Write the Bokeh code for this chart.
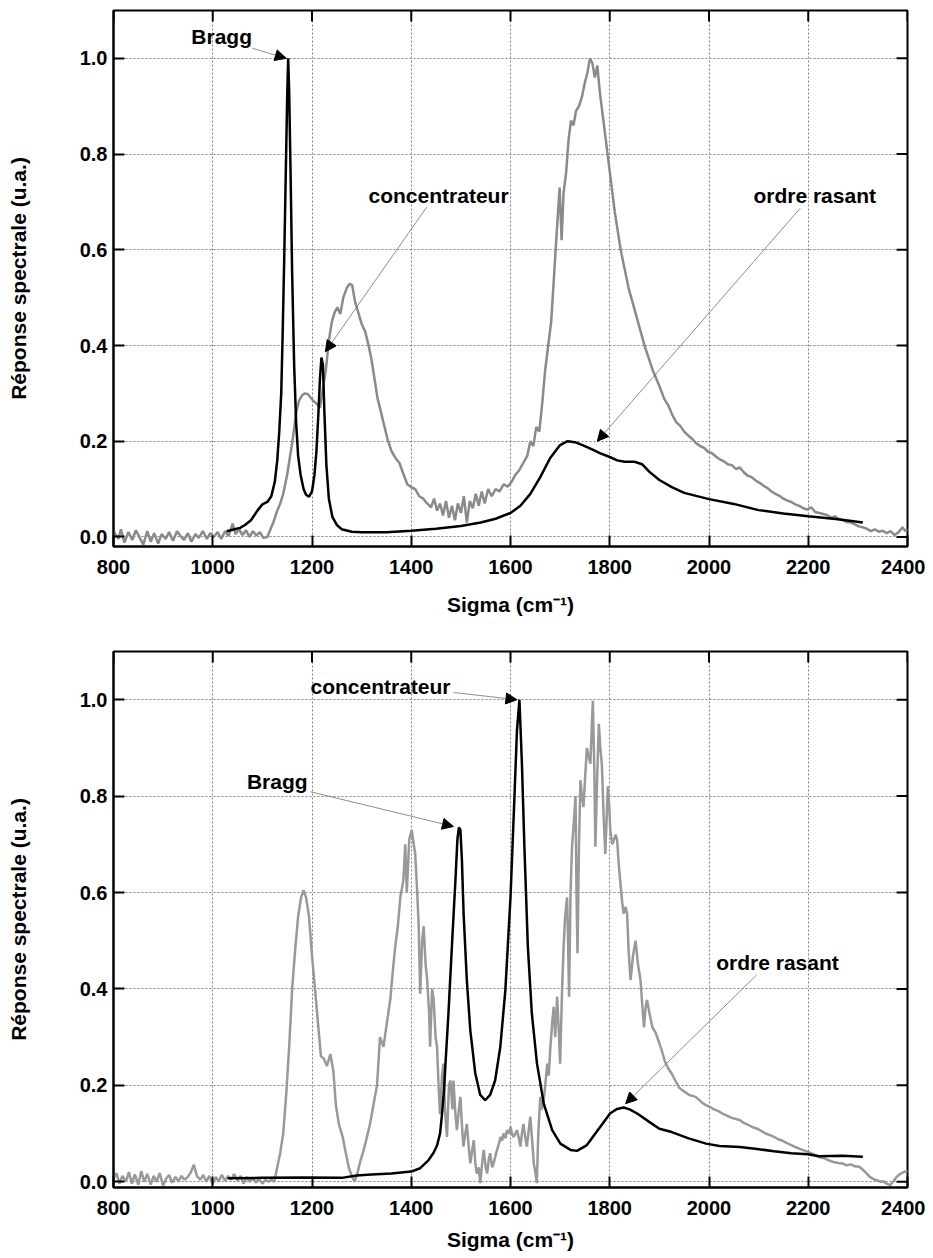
import math
from bokeh.plotting import figure
from bokeh.layouts import column
from bokeh.models import (FixedTicker, NumeralTickFormatter, Arrow, NormalHead, Label, Range1d)
from bokeh.embed import file_html
from bokeh.resources import INLINE

# ---------------- data ----------------
x_ticks = [800, 1000, 1200, 1400, 1600, 1800, 2000, 2200, 2400]
y_ticks = [0.0, 0.2, 0.4, 0.6, 0.8, 1.0]
x_label = "Sigma (cm\u207b\u00b9)"
y_label = "Réponse spectrale (u.a.)"

top_gray_x = [800, 810, 815, 822, 830, 838, 845, 852, 860, 868, 875, 882, 890, 897, 905, 912, 920, 928, 935, 942,
              950, 957, 965, 972, 980, 988, 995, 1002, 1010, 1017, 1025, 1032, 1040, 1046, 1053, 1060, 1067, 1074,
              1081, 1088, 1095, 1102, 1110, 1116, 1122, 1130, 1136, 1142, 1150, 1156, 1162, 1168, 1174, 1180, 1186,
              1192, 1198, 1204, 1210, 1216, 1222, 1228, 1234, 1240, 1246, 1251, 1257, 1263, 1270, 1276, 1281, 1287,
              1293, 1300, 1307, 1314, 1320, 1326, 1332, 1338, 1345, 1352, 1360, 1368, 1376, 1384, 1392, 1400, 1408,
              1416, 1424, 1432, 1440, 1446, 1452, 1458, 1464, 1470, 1476, 1482, 1488, 1494, 1500, 1506, 1512, 1518,
              1524, 1530, 1536, 1542, 1548, 1555, 1562, 1570, 1578, 1586, 1594, 1602, 1610, 1618, 1626, 1634, 1640,
              1646, 1652, 1658, 1664, 1670, 1676, 1682, 1688, 1694, 1699, 1703, 1707, 1712, 1717, 1722, 1727, 1732,
              1738, 1744, 1750, 1755, 1760, 1765, 1770, 1775, 1780, 1786, 1792, 1798, 1804, 1810, 1816, 1822, 1830,
              1838, 1846, 1854, 1862, 1870, 1878, 1886, 1894, 1902, 1910, 1918, 1926, 1934, 1942, 1950, 1958, 1966,
              1974, 1982, 1990, 1998, 2006, 2014, 2022, 2030, 2038, 2046, 2054, 2062, 2070, 2078, 2086, 2094, 2102,
              2110, 2118, 2126, 2134, 2142, 2150, 2158, 2166, 2174, 2182, 2190, 2198, 2206, 2214, 2222, 2230, 2238,
              2246, 2254, 2262, 2270, 2278, 2286, 2294, 2302, 2310, 2318, 2326, 2334, 2342, 2350, 2358, 2366, 2374,
              2382, 2390, 2396, 2400]
top_gray_y = [0.012, -0.004, 0.016, -0.012, 0.01, -0.006, 0.014, 0.0, -0.016, 0.012, -0.01, 0.008, -0.014, 0.006,
              -0.004, 0.01, -0.008, 0.012, 0.002, -0.006, 0.008, -0.01, 0.006, -0.002, 0.012, -0.004, 0.008, 0.0,
              0.01, -0.004, 0.012, 0.002, 0.028, 0.006, 0.016, 0.004, 0.014, 0.0, 0.012, 0.003, 0.01, -0.002, 0.0,
              0.015, 0.03, 0.055, 0.07, 0.09, 0.13, 0.17, 0.21, 0.26, 0.285, 0.296, 0.3, 0.298, 0.29, 0.283, 0.278,
              0.27, 0.31, 0.35, 0.41, 0.45, 0.47, 0.48, 0.466, 0.5, 0.52, 0.529, 0.526, 0.49, 0.47, 0.445, 0.43, 0.4,
              0.37, 0.33, 0.29, 0.265, 0.235, 0.205, 0.18, 0.165, 0.155, 0.132, 0.11, 0.104, 0.1, 0.085, 0.08, 0.07,
              0.062, 0.08, 0.055, 0.07, 0.045, 0.075, 0.04, 0.065, 0.035, 0.07, 0.05, 0.085, 0.03, 0.075, 0.06, 0.09,
              0.065, 0.095, 0.07, 0.1, 0.085, 0.1, 0.095, 0.11, 0.105, 0.115, 0.13, 0.14, 0.155, 0.17, 0.2, 0.19,
              0.23, 0.22, 0.28, 0.35, 0.4, 0.45, 0.55, 0.65, 0.73, 0.62, 0.72, 0.76, 0.83, 0.87, 0.86, 0.89, 0.9,
              0.92, 0.95, 0.97, 1.0, 0.99, 0.96, 0.985, 0.93, 0.88, 0.83, 0.78, 0.73, 0.68, 0.64, 0.6, 0.56, 0.52,
              0.49, 0.46, 0.43, 0.4, 0.375, 0.35, 0.33, 0.31, 0.288, 0.275, 0.255, 0.24, 0.232, 0.22, 0.212, 0.205,
              0.196, 0.19, 0.186, 0.178, 0.175, 0.168, 0.162, 0.158, 0.152, 0.15, 0.142, 0.145, 0.135, 0.128, 0.125,
              0.118, 0.113, 0.107, 0.102, 0.095, 0.09, 0.086, 0.08, 0.076, 0.073, 0.068, 0.065, 0.06, 0.057, 0.062,
              0.052, 0.05, 0.048, 0.046, 0.04, 0.043, 0.037, 0.035, 0.031, 0.03, 0.026, 0.022, 0.02, 0.017, 0.012,
              0.016, 0.011, 0.013, 0.008, 0.012, 0.004, 0.01, 0.02, 0.012, 0.016]

top_black_x = [1028, 1040, 1055, 1065, 1077, 1090, 1100, 1110, 1118, 1125, 1130, 1134, 1138, 1141, 1144, 1147, 1150,
               1152, 1154, 1157, 1160, 1164, 1168, 1172, 1177, 1183, 1188, 1194, 1200, 1205, 1209, 1213, 1216, 1219,
               1222, 1225, 1229, 1234, 1241, 1250, 1260, 1280, 1300, 1350, 1400, 1450, 1500, 1540, 1570, 1600, 1620,
               1640, 1660, 1680, 1700, 1715, 1730, 1745, 1760, 1780, 1800, 1815, 1830, 1850, 1865, 1880, 1900, 1925,
               1950, 2000, 2050, 2100, 2150, 2200, 2260, 2310]
top_black_y = [0.012, 0.015, 0.019, 0.025, 0.035, 0.055, 0.068, 0.073, 0.085, 0.115, 0.16, 0.22, 0.3, 0.43, 0.58,
               0.75, 0.92, 1.0, 0.93, 0.75, 0.55, 0.36, 0.24, 0.17, 0.13, 0.1, 0.088, 0.084, 0.095, 0.13, 0.18, 0.26,
               0.33, 0.375, 0.36, 0.26, 0.15, 0.08, 0.042, 0.025, 0.016, 0.011, 0.01, 0.01, 0.013, 0.017, 0.023,
               0.03, 0.038, 0.05, 0.065, 0.09, 0.125, 0.165, 0.192, 0.2, 0.198, 0.192, 0.185, 0.175, 0.167, 0.16,
               0.157, 0.157, 0.152, 0.136, 0.119, 0.104, 0.092, 0.079, 0.069, 0.056, 0.049, 0.043, 0.037, 0.03]

bot_gray_x = [800, 806, 812, 818, 825, 831, 837, 843, 850, 856, 862, 868, 875, 881, 887, 893, 900, 906, 912, 918,
              925, 931, 937, 943, 950, 956, 962, 968, 975, 981, 987, 993, 1000, 1006, 1012, 1018, 1025, 1031, 1037,
              1043, 1050, 1056, 1062, 1068, 1075, 1081, 1087, 1093, 1100, 1106, 1112, 1118, 1124, 1130, 1136, 1142,
              1148, 1154, 1160, 1166, 1172, 1178, 1183, 1188, 1194, 1200, 1206, 1212, 1218, 1224, 1230, 1237, 1243,
              1248, 1254, 1262, 1268, 1274, 1280, 1286, 1292, 1298, 1304, 1310, 1317, 1324, 1331, 1337, 1344, 1351,
              1358, 1364, 1368, 1373, 1378, 1384, 1388, 1391, 1396, 1401, 1405, 1408, 1412, 1415, 1418, 1422, 1425,
              1429, 1432, 1436, 1438, 1442, 1445, 1449, 1452, 1455, 1458, 1462, 1465, 1468, 1472, 1476, 1479, 1483,
              1485, 1489, 1492, 1496, 1499, 1502, 1505, 1509, 1512, 1516, 1519, 1522, 1526, 1529, 1532, 1536, 1539,
              1543, 1546, 1550, 1553, 1556, 1559, 1563, 1566, 1570, 1573, 1577, 1580, 1583, 1586, 1590, 1593, 1597,
              1600, 1603, 1606, 1610, 1613, 1617, 1620, 1623, 1626, 1630, 1633, 1637, 1640, 1644, 1647, 1650, 1653,
              1656, 1660, 1663, 1667, 1670, 1674, 1677, 1680, 1684, 1687, 1690, 1694, 1697, 1700, 1704, 1707, 1710,
              1714, 1716, 1718, 1721, 1724, 1728, 1731, 1733, 1735, 1738, 1741, 1744, 1747, 1751, 1754, 1758, 1761,
              1764, 1766, 1769, 1771, 1775, 1778, 1781, 1784, 1788, 1791, 1794, 1796, 1799, 1801, 1805, 1808, 1812,
              1815, 1818, 1821, 1825, 1828, 1832, 1835, 1838, 1842, 1847, 1852, 1857, 1862, 1866, 1869, 1872, 1875,
              1880, 1886, 1892, 1898, 1904, 1911, 1918, 1925, 1932, 1940, 1946, 1953, 1960, 1967, 1973, 1980, 1987,
              1994, 2002, 2010, 2018, 2028, 2036, 2045, 2054, 2062, 2070, 2079, 2088, 2097, 2106, 2114, 2122, 2131,
              2140, 2148, 2157, 2166, 2174, 2183, 2191, 2200, 2208, 2217, 2225, 2234, 2242, 2251, 2260, 2269, 2277,
              2286, 2294, 2303, 2310, 2317, 2324, 2331, 2338, 2345, 2351, 2358, 2365, 2371, 2378, 2385, 2392, 2398,
              2400]
bot_gray_y = [0.005, 0.018, -0.004, 0.012, 0.0, 0.02, -0.004, 0.015, -0.006, 0.022, 0.0, 0.016, -0.006, 0.012, 0.0,
              0.018, -0.008, 0.006, 0.014, -0.002, 0.01, 0.0, 0.012, 0.004, 0.01, 0.02, 0.035, 0.012, 0.004, 0.014,
              0.0, 0.012, -0.004, 0.01, 0.0, 0.014, 0.002, 0.012, 0.004, 0.016, 0.002, 0.012, -0.004, 0.01, 0.0,
              0.008, -0.002, 0.006, -0.004, 0.004, 0.0, 0.004, 0.0, 0.03, 0.06, 0.1, 0.18, 0.28, 0.4, 0.48, 0.55,
              0.59, 0.605, 0.59, 0.55, 0.47, 0.4, 0.33, 0.26, 0.255, 0.24, 0.265, 0.23, 0.16, 0.12, 0.092, 0.06,
              0.03, 0.012, 0.0, 0.02, 0.045, 0.065, 0.09, 0.12, 0.16, 0.2, 0.3, 0.28, 0.33, 0.38, 0.45, 0.49, 0.53,
              0.59, 0.625, 0.7, 0.6, 0.71, 0.73, 0.7, 0.68, 0.6, 0.53, 0.39, 0.5, 0.53, 0.45, 0.42, 0.35, 0.28, 0.4,
              0.38, 0.3, 0.28, 0.2, 0.14, 0.22, 0.245, 0.15, 0.093, 0.2, 0.21, 0.15, 0.21, 0.14, 0.107, 0.15, 0.176,
              0.12, 0.073, 0.1, 0.12, 0.07, 0.038, 0.06, 0.086, 0.04, 0.017, 0.03, -0.003, 0.04, 0.066, 0.03, 0.017,
              0.045, 0.059, 0.03, 0.038, 0.055, 0.066, 0.08, 0.093, 0.085, 0.1, 0.09, 0.107, 0.1, 0.114, 0.1, 0.093,
              0.1, 0.107, 0.09, 0.073, 0.1, 0.12, 0.09, 0.073, 0.11, 0.135, 0.08, 0.038, 0.02, -0.003, 0.1, 0.176,
              0.15, 0.17, 0.2, 0.245, 0.22, 0.273, 0.33, 0.363, 0.3, 0.384, 0.32, 0.245, 0.4, 0.487, 0.55, 0.59, 0.5,
              0.384, 0.6, 0.695, 0.75, 0.8, 0.6, 0.474, 0.7, 0.833, 0.8, 0.777, 0.85, 0.9, 0.88, 0.867, 0.95, 0.998,
              0.85, 0.695, 0.85, 0.95, 0.9, 0.867, 0.75, 0.68, 0.76, 0.82, 0.78, 0.73, 0.7, 0.708, 0.72, 0.708, 0.66,
              0.625, 0.58, 0.556, 0.57, 0.556, 0.48, 0.418, 0.47, 0.5, 0.45, 0.418, 0.36, 0.32, 0.36, 0.377, 0.35,
              0.32, 0.31, 0.293, 0.275, 0.25, 0.235, 0.224, 0.21, 0.195, 0.19, 0.185, 0.18, 0.178, 0.176, 0.17, 0.163,
              0.159, 0.155, 0.15, 0.147, 0.141, 0.137, 0.133, 0.13, 0.128, 0.122, 0.118, 0.113, 0.11, 0.105, 0.1,
              0.097, 0.093, 0.088, 0.085, 0.08, 0.076, 0.072, 0.068, 0.065, 0.062, 0.058, 0.054, 0.05, 0.048, 0.044,
              0.041, 0.039, 0.038, 0.034, 0.036, 0.032, 0.031, 0.025, 0.018, 0.01, 0.006, 0.003, 0.0, 0.001, -0.004,
              -0.007, 0.0, 0.01, 0.016, 0.02, 0.022, 0.02]

bot_black_x = [1030, 1100, 1180, 1260, 1290, 1320, 1360, 1400, 1418, 1435, 1445, 1452, 1458, 1462, 1466, 1469, 1475,
               1482, 1489, 1493, 1496, 1499, 1502, 1505.5, 1512, 1519, 1529, 1539, 1549, 1559, 1569, 1579.5, 1589.6,
               1600, 1608, 1613, 1618, 1623, 1628, 1635, 1643, 1653.4, 1667, 1684, 1700.5, 1720.7, 1734, 1754, 1781,
               1801, 1815, 1828, 1840, 1856, 1884, 1900, 1925, 1959, 1994, 2021, 2062, 2097, 2131, 2166, 2200, 2221,
               2269, 2310]
bot_black_y = [0.007, 0.008, 0.009, 0.008, 0.013, 0.015, 0.017, 0.021, 0.028, 0.045, 0.06, 0.075, 0.1, 0.14, 0.19,
               0.245, 0.35, 0.49, 0.625, 0.71, 0.735, 0.73, 0.67, 0.556, 0.418, 0.314, 0.225, 0.18, 0.169, 0.18, 0.21,
               0.28, 0.397, 0.59, 0.8, 0.936, 1.0, 0.867, 0.695, 0.487, 0.349, 0.245, 0.162, 0.107, 0.079, 0.066,
               0.064, 0.076, 0.114, 0.142, 0.151, 0.154, 0.15, 0.141, 0.121, 0.11, 0.103, 0.09, 0.079, 0.074, 0.072,
               0.068, 0.063, 0.059, 0.057, 0.053, 0.054, 0.052]

# ---------------- styling ----------------
FONT = "Liberation Sans"
FS = "20px"
FS_BIG = "21px"
X0, X1, Y1 = 800, 2400, 1.1


def make_fig(height, top, bottom, y0, tick_standoff, label_standoff):
    p = figure(width=925, height=height, x_range=Range1d(X0, X1), y_range=Range1d(y0, Y1),
               output_backend="svg", toolbar_location=None,
               min_border_left=113, min_border_right=18, min_border_top=top, min_border_bottom=bottom)
    p.background_fill_color = "white"
    p.border_fill_color = "white"
    p.outline_line_color = "black"
    p.outline_line_width = 2
    p.outline_line_alpha = 1.0

    for ax in (p.xaxis[0], p.yaxis[0]):
        ax.major_tick_in = 11
        ax.major_tick_out = 0
        ax.minor_tick_in = 0
        ax.minor_tick_out = 0
        ax.axis_line_width = 2
        ax.axis_line_color = "black"
        ax.major_tick_line_width = 2
        ax.major_tick_line_color = "black"
        ax.major_label_text_font = FONT
        ax.major_label_text_font_style = "bold"
        ax.major_label_text_font_size = FS
        ax.major_label_text_color = "black"
        ax.axis_label_text_font = FONT
        ax.axis_label_text_font_style = "bold"
        ax.axis_label_text_font_size = FS_BIG
        ax.axis_label_text_color = "black"

    p.xaxis[0].ticker = FixedTicker(ticks=x_ticks)
    p.yaxis[0].ticker = FixedTicker(ticks=y_ticks)
    p.yaxis[0].formatter = NumeralTickFormatter(format="0.0")
    p.xaxis[0].axis_label = x_label
    p.yaxis[0].axis_label = y_label
    p.xaxis[0].major_label_standoff = tick_standoff
    p.yaxis[0].major_label_standoff = 6
    p.xaxis[0].axis_label_standoff = label_standoff
    p.yaxis[0].axis_label_standoff = 47

    for g in (p.xgrid[0], p.ygrid[0]):
        g.grid_line_color = "#808080"
        g.grid_line_dash = "2 2"
        g.grid_line_width = 1

    # mirrored inward ticks on the top and right edges of the frame
    p.scatter(x=x_ticks, y=[Y1] * len(x_ticks), marker="dash", size=22, angle=math.pi / 2,
              line_color="black", line_width=2)
    p.scatter(x=[X1] * len(y_ticks), y=y_ticks, marker="dash", size=22,
              line_color="black", line_width=2)
    return p


def annotate(p, text, tx, ty, sx, sy, ex, ey):
    p.add_layout(Arrow(end=NormalHead(size=11, fill_color="black", line_color="black", line_width=1),
                       x_start=sx, y_start=sy, x_end=ex, y_end=ey,
                       line_color="#707070", line_width=0.8))
    p.add_layout(Label(x=tx, y=ty, text=text, text_font=FONT, text_font_style="bold",
                       text_font_size=FS_BIG, text_align="center", text_baseline="middle",
                       text_color="black"))


p1 = make_fig(638, 10, 92, -0.02, 13, 16)
p1.line(top_gray_x, top_gray_y, line_color="#8a8a8a", line_width=2.5)
p1.line(top_black_x, top_black_y, line_color="black", line_width=2.5)
annotate(p1, "Bragg", 1018, 1.045, 1080, 1.021, 1148, 1.0)
annotate(p1, "concentrateur", 1455, 0.714, 1431, 0.689, 1227, 0.387)
annotate(p1, "ordre rasant", 2213, 0.714, 2184, 0.687, 1775, 0.2)

p2 = make_fig(620, 13, 71, -0.012, 13, 10)
p2.line(bot_gray_x, bot_gray_y, line_color="#999999", line_width=2.5)
p2.line(bot_black_x, bot_black_y, line_color="black", line_width=2.5)
annotate(p2, "concentrateur", 1338, 1.028, 1485, 1.015, 1613, 1.0)
annotate(p2, "Bragg", 1130, 0.83, 1197, 0.809, 1485, 0.737)
annotate(p2, "ordre rasant", 2138, 0.454, 2096, 0.429, 1832, 0.162)

layout = column(p1, p2)
open("out.html", "w").write(file_html(layout, INLINE))
